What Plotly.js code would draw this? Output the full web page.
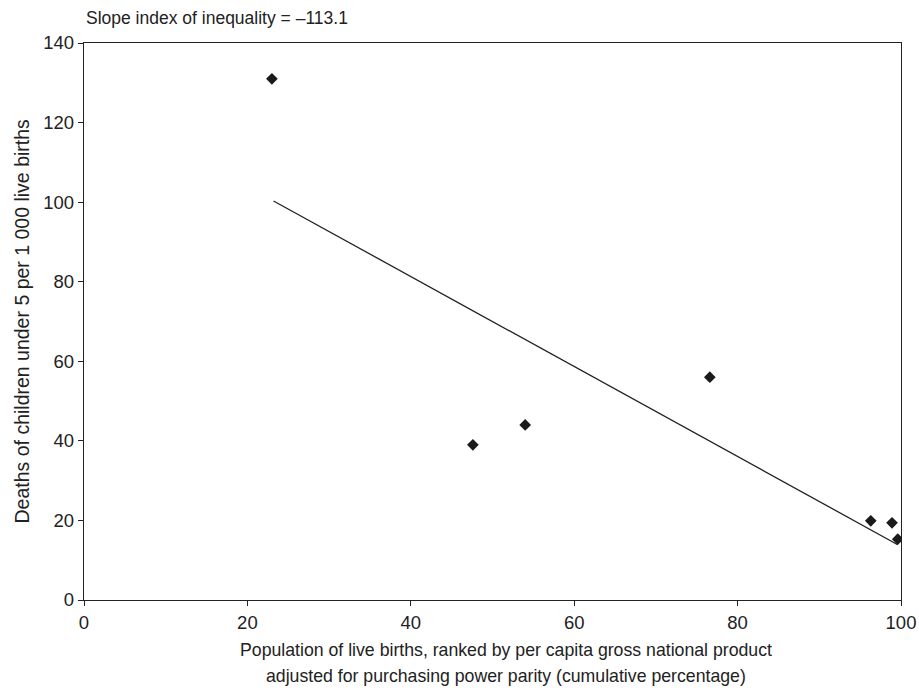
<!DOCTYPE html>
<html><head><meta charset="utf-8">
<script src="https://cdn.plot.ly/plotly-3.0.1.min.js"></script>
<style>body{margin:0;background:#fff}#c{width:919px;height:690px}</style>
</head><body><div id="c"></div>
<script>
const popPct = [23.0, 47.6, 54.0, 76.6, 96.3, 98.9, 99.6];
const deaths = [131, 39, 44, 56, 19.9, 19.4, 15.3];
const fitX = [23.2, 99.6];
const fitY = [100.3, 13.9];
const xTicks = [0, 20, 40, 60, 80, 100];
const yTicks = [0, 20, 40, 60, 80, 100, 120, 140];
const titleText = "Slope index of inequality = \u2013113.1";
const xTitle1 = "Population of live births, ranked by per capita gross national product";
const xTitle2 = "adjusted for purchasing power parity (cumulative percentage)";
const yTitle = "Deaths of children under 5 per 1 000 live births";

const font = "Liberation Sans, Arial, sans-serif";
const tcol = "#222";
const data = [
  {x: fitX, y: fitY, mode: "lines", line: {color: "#222", width: 1.3}, hoverinfo: "skip"},
  {x: popPct, y: deaths, mode: "markers", marker: {symbol: "diamond", size: 9, color: "#1a1a1a"}}
];
function ann(text, x, y, size, opts) {
  return Object.assign({text: text, x: x, y: y, xref: "paper", yref: "paper", showarrow: false,
    font: {family: font, size: size, color: tcol}}, opts || {});
}
const layout = {
  width: 919, height: 690,
  margin: {l: 84, r: 18, t: 43, b: 90},
  paper_bgcolor: "#fff", plot_bgcolor: "#fff",
  showlegend: false,
  font: {family: font, size: 18, color: tcol},
  annotations: [
    ann(titleText, 0, (600 - 18) / 557, 17.5, {xanchor: "left", yanchor: "middle"}),
    ann(xTitle1, (506 - 84) / 817, (600 - 650) / 557, 17.7, {xanchor: "center", yanchor: "middle"}),
    ann(xTitle2, (506 - 84) / 817, (600 - 676) / 557, 17.7, {xanchor: "center", yanchor: "middle"}),
    ann(yTitle, (21.5 - 84) / 817, (600 - 321) / 557, 19.5, {xanchor: "center", yanchor: "middle", textangle: -90})
  ],
  xaxis: {range: [0, 100], tickvals: xTicks, ticks: "outside", ticklen: 5, tickcolor: "#222",
          showgrid: false, zeroline: false, showline: true, linecolor: "#222", linewidth: 1.3, mirror: true,
          tickfont: {family: font, size: 18.5}},
  yaxis: {range: [0, 140], tickvals: yTicks, ticks: "outside", ticklen: 5, tickcolor: "#222",
          showgrid: false, zeroline: false, showline: true, linecolor: "#222", linewidth: 1.3, mirror: true,
          tickfont: {family: font, size: 18.5}}
};
Plotly.newPlot("c", data, layout, {displayModeBar: false, staticPlot: true});
</script></body></html>
